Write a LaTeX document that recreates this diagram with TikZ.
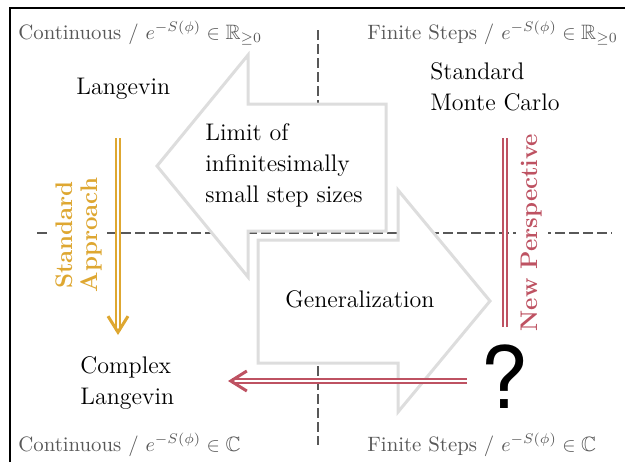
\documentclass[tikz,border=0pt]{standalone}
\usepackage{amssymb}
\usepackage{fontspec}
\newfontfamily\qmarkfont{TeX Gyre Heros}
\usetikzlibrary{arrows.meta}

\definecolor{apporange}{RGB}{222,167,49}
\definecolor{perspred}{RGB}{190,82,98}
\definecolor{bigarrowgray}{RGB}{221,221,221}
\definecolor{axisgray}{RGB}{88,88,88}

\tikzset{
    axis/.style={draw=axisgray, line width=0.75pt, dash pattern=on 5pt off 2pt},
    bigarrow/.style={draw=bigarrowgray, line width=1.5pt, fill=white, line join=miter},
    method/.style={font=\fontsize{12}{15.5}\selectfont, align=left, inner sep=0pt},
    quadrant/.style={font=\fontsize{10.4}{12.5}\selectfont, text=axisgray, inner sep=0pt},
    sidelabel/.style={font=\fontsize{12}{12.5}\selectfont\bfseries, align=center,
        rotate=90, fill=white, inner sep=2.5pt},
    dblarrow/.style={line width=1pt, double=white, double distance=1.3pt}
}

\begin{document}
\begin{tikzpicture}[x=0.5pt, y=-0.5pt]
    \useasboundingbox (0,0) rectangle (625,462);

    % Frame
    \draw[line width=0.75pt] (10,462) -- (10,8) -- (625,8);

    % Axes
    \draw[axis] (37,233) -- (612,233);
    \draw[axis] (318,30) -- (318,445);

    % Quadrant labels
    \node[quadrant, anchor=base west] (qtl) at (18,39) {Continuous / $e^{-S(\phi)}\in\mathbb{R}_{\geq 0}$};
    \node[quadrant, anchor=base west] (qtr) at (367,39) {Finite Steps / $e^{-S(\phi)}\in\mathbb{R}_{\geq 0}$};
    \node[quadrant, anchor=base west] (qbl) at (18,451) {Continuous / $e^{-S(\phi)}\in\mathbb{C}$};
    \node[quadrant, anchor=base west] (qbr) at (367,451) {Finite Steps / $e^{-S(\phi)}\in\mathbb{C}$};

    % Big gray arrows
    \draw[bigarrow] (157,166) -- (248,55) -- (248,104) -- (386,104) -- (386,231)
        -- (248,231) -- (248,277) -- cycle;
    \draw[bigarrow] (258,240) -- (398,240) -- (398,190) -- (490,301) -- (398,412)
        -- (398,363) -- (258,363) -- cycle;
    \node[method, anchor=north west] (limit) at (205,123.3) {Limit of\\infinitesimally\\small step sizes};
    \node[method, anchor=base west] (gen) at (285,307) {Generalization};

    % Methods
    \node[method, anchor=base west] (lang) at (76,94) {Langevin};
    \node[method, anchor=north west] (smc) at (430,62.3) {Standard\\Monte Carlo};
    \node[method, anchor=north west] (cl) at (80,356.3) {Complex\\Langevin};
    \node[font=\qmarkfont\fontsize{43}{43}\selectfont, inner sep=0pt] (qmark) at (504.5,376.5) {?};

    % Side labels
    \node[sidelabel, text=apporange] (stdapp) at (79,235) {Standard\\Approach};
    \node[sidelabel, text=perspred] (newpersp) at (532,232.5) {New Perspective};

    % Colored arrows
    \coordinate (sa start) at (118,138);
    \coordinate (sa end) at (118,335);
    \coordinate (np start) at (505,138);
    \coordinate (np end) at (505,327);
    \coordinate (back start) at (467,381);
    \coordinate (back end) at (228,381);
    \draw[dblarrow, draw=apporange, -{Straight Barb[length=8pt,width=10pt,line width=1.5pt]}] (sa start) -- (sa end);
    \draw[dblarrow, draw=perspred] (np start) -- (np end);
    \draw[dblarrow, draw=perspred, -{Straight Barb[length=8pt,width=10pt,line width=1.5pt]}] (back start) -- (back end);
\end{tikzpicture}
\end{document}
